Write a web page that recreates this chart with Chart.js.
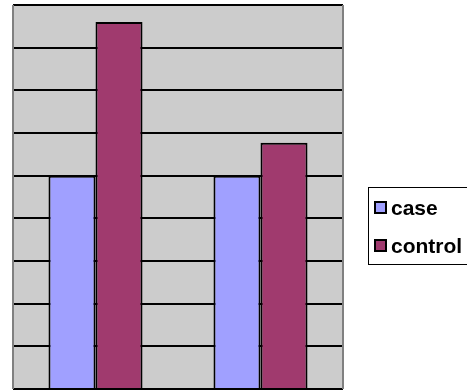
<!DOCTYPE html>
<html>
<head>
<meta charset="utf-8">
<script src="https://cdn.jsdelivr.net/npm/chart.js@4/dist/chart.umd.min.js"></script>
<style>
  html, body { margin: 0; padding: 0; background: #fff; overflow: hidden; }
  #wrap { position: relative; width: 467px; height: 390px; overflow: hidden; }
  #legend {
    position: absolute; left: 368px; top: 187px; width: 99px; height: 78px;
    border: 1px solid #000; border-right: none; box-sizing: border-box;
    font-family: "Liberation Sans", Arial, sans-serif; font-weight: bold; font-size: 21px;
  }
  #legend .item { position: absolute; left: 5px; height: 24px; line-height: 24px; white-space: nowrap; }
  #legend .swatch {
    display: inline-block; width: 9px; height: 9px; border: 2px solid #000;
    vertical-align: middle; margin-right: 4px; position: relative; top: -2px;
  }
</style>
</head>
<body>
<div id="wrap">
  <canvas id="bar-chart" width="467" height="390"></canvas>
  <div id="legend"></div>
</div>
<script>
const categories = ['1', '2'];
const seriesNames = ['case', 'control'];
const caseValues = [5, 5];
const controlValues = [8.6, 5.77];
const colors = ['#a0a0ff', '#a03a6e'];

// gray plot background with side edges
const plotFrame = {
  id: 'plotFrame',
  beforeDraw(chart) {
    const { ctx, chartArea: a } = chart;
    ctx.save();
    ctx.fillStyle = '#cccccc';
    ctx.fillRect(a.left, a.top, a.right - a.left, a.bottom - a.top);
    ctx.restore();
  },
  afterDraw(chart) {
    const { ctx, chartArea: a } = chart;
    ctx.save();
    ctx.strokeStyle = '#808080';
    ctx.lineWidth = 2;
    ctx.beginPath();
    ctx.moveTo(a.left, a.top);
    ctx.lineTo(a.left, a.bottom);
    ctx.moveTo(a.right, a.top);
    ctx.lineTo(a.right, a.bottom);
    ctx.stroke();
    ctx.restore();
  }
};

const data = {
  labels: categories,
  datasets: [caseValues, controlValues].map((values, i) => ({
    label: seriesNames[i],
    data: values,
    backgroundColor: colors[i],
    borderColor: '#000',
    borderWidth: 2,
    categoryPercentage: 0.57,
    barPercentage: 1
  }))
};

new Chart(document.getElementById('bar-chart'), {
  type: 'bar',
  data: data,
  plugins: [plotFrame],
  options: {
    responsive: false,
    animation: false,
    layout: { padding: { left: 13, top: 5, right: 124, bottom: 1 } },
    plugins: { legend: { display: false }, tooltip: { enabled: false } },
    scales: {
      x: {
        ticks: { display: false },
        grid: { display: false, drawTicks: false },
        border: { display: false }
      },
      y: {
        min: 0,
        max: 9,
        ticks: { display: false, stepSize: 1 },
        grid: { color: '#000', lineWidth: 2, drawTicks: false },
        border: { display: false }
      }
    }
  }
});

// legend
const legend = document.getElementById('legend');
seriesNames.forEach((name, i) => {
  const item = document.createElement('div');
  item.className = 'item';
  item.style.top = (8 + i * 38) + 'px';
  const sw = document.createElement('span');
  sw.className = 'swatch';
  sw.style.background = colors[i];
  item.appendChild(sw);
  item.appendChild(document.createTextNode(name));
  legend.appendChild(item);
});
</script>
</body>
</html>
